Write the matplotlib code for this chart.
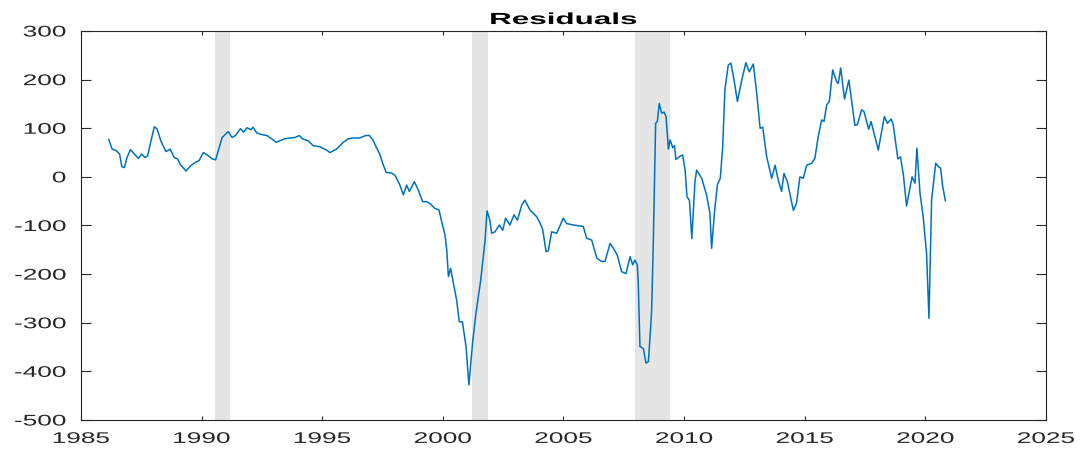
import matplotlib
matplotlib.use("Agg")
import matplotlib.pyplot as plt
from matplotlib.patheffects import AbstractPathEffect
from matplotlib.transforms import Affine2D

plt.rcParams["font.family"] = ["Liberation Sans", "DejaVu Sans"]

# Residual series (decimal year, value)
years = [
    1986.15, 1986.29, 1986.46, 1986.60, 1986.69, 1986.80, 1986.90, 1987.05, 1987.21, 1987.38,
    1987.51, 1987.65, 1987.76, 1987.90, 1988.04, 1988.15, 1988.31, 1988.52, 1988.70, 1988.86,
    1989.00, 1989.11, 1989.35, 1989.55, 1989.75, 1989.89, 1990.07, 1990.23, 1990.44, 1990.58,
    1990.71, 1990.85, 1991.10, 1991.26, 1991.40, 1991.61, 1991.74, 1991.88, 1992.05, 1992.13,
    1992.29, 1992.50, 1992.71, 1992.91, 1993.09, 1993.23, 1993.42, 1993.67, 1993.87, 1994.05,
    1994.19, 1994.42, 1994.63, 1994.90, 1995.18, 1995.32, 1995.59, 1995.87, 1996.07, 1996.28,
    1996.55, 1996.80, 1996.96, 1997.10, 1997.24, 1997.38, 1997.51, 1997.65, 1997.86, 1998.00,
    1998.10, 1998.22, 1998.36, 1998.50, 1998.61, 1998.82, 1998.98, 1999.16, 1999.33, 1999.47,
    1999.67, 1999.84, 1999.95, 2000.09, 2000.16, 2000.23, 2000.32, 2000.41, 2000.57, 2000.68,
    2000.81, 2000.96, 2001.08, 2001.23, 2001.37, 2001.57, 2001.75, 2001.83, 2001.95, 2002.02,
    2002.16, 2002.34, 2002.48, 2002.60, 2002.78, 2002.95, 2003.09, 2003.27, 2003.40, 2003.61,
    2003.89, 2004.03, 2004.14, 2004.28, 2004.37, 2004.51, 2004.72, 2004.99, 2005.13, 2005.41,
    2005.82, 2005.96, 2006.17, 2006.38, 2006.58, 2006.72, 2006.93, 2007.07, 2007.23, 2007.41,
    2007.59, 2007.76, 2007.87, 2007.96, 2008.06, 2008.10, 2008.17, 2008.31, 2008.42, 2008.52,
    2008.65, 2008.72, 2008.82, 2008.89, 2008.97, 2009.07, 2009.17, 2009.25, 2009.35, 2009.42,
    2009.53, 2009.60, 2009.66, 2009.85, 2009.94, 2010.04, 2010.12, 2010.22, 2010.32, 2010.45,
    2010.52, 2010.73, 2010.93, 2011.07, 2011.14, 2011.26, 2011.38, 2011.50, 2011.60, 2011.69,
    2011.83, 2011.94, 2012.07, 2012.21, 2012.39, 2012.56, 2012.70, 2012.87, 2013.01, 2013.15,
    2013.26, 2013.42, 2013.63, 2013.77, 2013.90, 2014.04, 2014.14, 2014.28, 2014.53, 2014.66,
    2014.80, 2014.94, 2015.08, 2015.29, 2015.42, 2015.56, 2015.70, 2015.80, 2015.91, 2016.02,
    2016.16, 2016.32, 2016.39, 2016.49, 2016.65, 2016.83, 2017.08, 2017.18, 2017.36, 2017.46,
    2017.65, 2017.75, 2018.05, 2018.30, 2018.43, 2018.58, 2018.67, 2018.86, 2018.97, 2019.09,
    2019.22, 2019.45, 2019.57, 2019.65, 2019.78, 2019.91, 2020.05, 2020.15, 2020.26, 2020.43,
    2020.54, 2020.63, 2020.72, 2020.83,
]
residuals = [
    77, 57, 54, 47, 21, 19, 39, 56, 47, 38,
    47, 40, 43, 74, 103, 99, 74, 52, 57, 40,
    37, 26, 12, 23, 30, 33, 50, 45, 37, 35,
    57, 81, 93, 81, 85, 99, 92, 101, 97, 102,
    90, 87, 85, 78, 71, 74, 78, 80, 81, 85,
    78, 74, 64, 62, 55, 50, 57, 71, 78, 80,
    80, 85, 85, 76, 61, 47, 27, 9, 8, 4,
    -5, -17, -37, -17, -30, -10, -27, -51, -51, -55,
    -65, -68, -92, -120, -150, -205, -188, -212, -253, -298,
    -298, -349, -428, -342, -281, -212, -130, -70, -89, -116,
    -113, -99, -110, -85, -99, -78, -89, -58, -48, -68,
    -82, -95, -109, -154, -152, -113, -116, -85, -96, -99,
    -102, -126, -130, -167, -174, -174, -137, -147, -161, -195,
    -199, -164, -181, -171, -181, -219, -349, -353, -383, -380,
    -281, -144, 110, 114, 151, 131, 133, 124, 57, 76,
    60, 64, 36, 43, 45, 14, -41, -48, -127, -10,
    14, -3, -37, -75, -147, -72, -16, -3, 62, 179,
    230, 234, 199, 155, 199, 235, 216, 232, 172, 100,
    102, 42, -3, 24, -6, -30, 7, -10, -69, -54,
    0, -3, 24, 28, 38, 83, 117, 114, 148, 155,
    220, 196, 192, 224, 160, 199, 106, 107, 138, 134,
    98, 114, 55, 124, 110, 119, 107, 37, 41, 4,
    -60, 0, -13, 59, -34, -82, -157, -291, -47, 28,
    21, 18, -20, -49,
]

# Recession periods (start, end)
recession_start = [1990.55, 2001.20, 2007.96]
recession_end = [1991.18, 2001.87, 2009.41]

x_ticks = [1985, 1990, 1995, 2000, 2005, 2010, 2015, 2020, 2025]
y_ticks = [-500, -400, -300, -200, -100, 0, 100, 200, 300]


class WideText(AbstractPathEffect):
    """Draw text glyphs widened horizontally about a chosen anchor."""

    def __init__(self, sx, anchor=0.5):
        super().__init__()
        self.sx = sx
        self.anchor = anchor

    def draw_path(self, renderer, gc, tpath, affine, rgbFace=None):
        ext = tpath.get_extents()
        x0 = ext.x0 + self.anchor * (ext.x1 - ext.x0)
        widen = Affine2D().translate(-x0, 0).scale(self.sx, 1.0).translate(x0, 0)
        renderer.draw_path(gc, tpath, widen + affine, rgbFace)


ink = "#262626"

fig = plt.figure(figsize=(10.83, 4.49), dpi=100)
ax = fig.add_axes([0.0748, 0.0646, 0.891, 0.8664])

for s, e in zip(recession_start, recession_end):
    ax.axvspan(s, e, color="#e5e5e5", lw=0, zorder=0)

ax.plot(years, residuals, color="#0072BD", lw=1.1, zorder=2)

ax.set_xlim(1985, 2025)
ax.set_ylim(-500, 300)
ax.set_xticks(x_ticks)
ax.set_yticks(y_ticks)
ax.set_xticklabels([str(v) for v in x_ticks])
ax.set_yticklabels([str(v) for v in y_ticks])

ax.tick_params(axis="x", direction="in", length=2.6, width=0.8, colors=ink,
               labelsize=11.1, top=True, bottom=True, pad=8.6)
ax.tick_params(axis="y", direction="in", length=7.0, width=0.8, colors=ink,
               labelsize=11.1, left=True, right=True, pad=10.8)
for sp in ax.spines.values():
    sp.set_color(ink)
    sp.set_linewidth(0.8)

for lbl in ax.get_xticklabels():
    lbl.set_path_effects([WideText(1.7, anchor=0.5)])
for lbl in ax.get_yticklabels():
    lbl.set_path_effects([WideText(1.7, anchor=1.0)])

title = ax.set_title("Residuals", fontsize=11.6, fontweight="bold", color="black", pad=5)
title.set_path_effects([WideText(1.95, anchor=0.5)])

fig.savefig("out.png", dpi=100)
